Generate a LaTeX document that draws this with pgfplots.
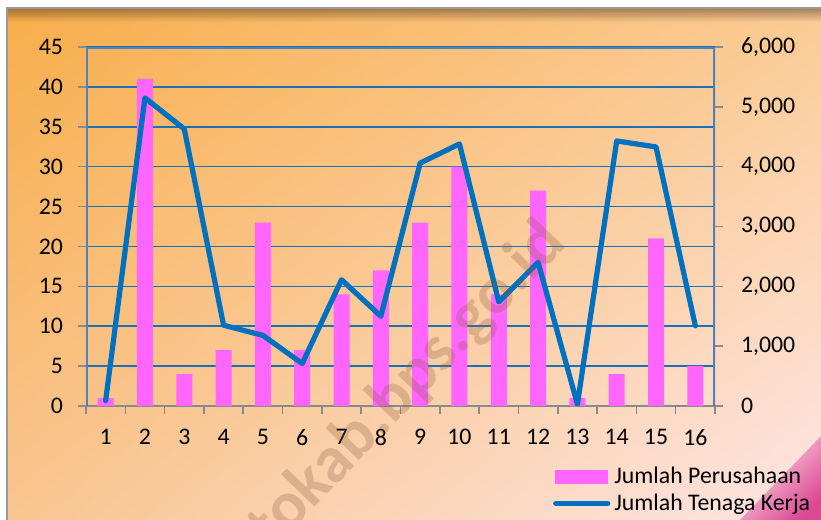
\documentclass[border=0pt]{standalone}
\usepackage{pgfplots}
\pgfplotsset{compat=1.18}
\usepackage{fontspec}
\setmainfont{Carlito}
\usetikzlibrary{fadings,shadings}

\definecolor{barpink}{HTML}{FF66FF}
\definecolor{lineblue}{HTML}{0070C0}
\definecolor{gridblue}{HTML}{1F6FB5}
\definecolor{frameblue}{HTML}{4F81BD}
\definecolor{tickgray}{HTML}{8A8A8A}
\definecolor{bgTL}{HTML}{F8AE4A}
\definecolor{bgTR}{HTML}{FBCB94}
\definecolor{bgBL}{HTML}{F9C590}
\definecolor{bgBR}{HTML}{FDE6E6}
\definecolor{corner}{HTML}{DC4A96}
\definecolor{wmbrown}{HTML}{8C5A40}

\newcommand{\lblfont}{\fontsize{11.9}{13.5}\selectfont}

\begin{document}
\begin{tikzpicture}
\useasboundingbox (0pt,0pt) rectangle (410.5pt,260pt);
\fill[white] (0pt,0pt) rectangle (410.5pt,260pt);
% background panel
\shade[upper left=bgTL, upper right=bgTR, lower left=bgBL, lower right=bgBR]
  (3.5pt,0pt) rectangle (410.5pt,256pt);
\shade[shading=axis, left color=bgBR, right color=corner, shading angle=45]
  (370pt,0pt) -- (410.5pt,42pt) -- (410.5pt,0pt) -- cycle;
\fill[black!70!brown, path fading=south, opacity=0.45] (3.5pt,249pt) rectangle (410.5pt,256pt);
\draw[gray!80, line width=1pt] (3.5pt,-1pt) -- (3.5pt,256pt) -- (411pt,256pt);

% bars, left axis
\begin{axis}[
  at={(43pt,57pt)}, anchor=south west, scale only axis,
  width=314.5pt, height=179.5pt,
  xmin=0.5, xmax=16.5, ymin=0, ymax=45,
  axis x line*=bottom, axis y line*=left,
  x axis line style={tickgray, line width=1pt, -},
  y axis line style={draw=none},
  xtick={0.5,1.5,...,16.5}, xticklabels={},
  extra x ticks={1,2,...,16},
  extra x tick style={tick style={draw=none}, xticklabel style={yshift=-4pt}},
  ytick={0,5,...,45},
  yticklabel style={xshift=-4pt},
  tick align=outside, major tick length=4pt,
  tick style={tickgray, line width=0.8pt},
  ymajorgrids, grid style={gridblue, line width=0.8pt},
  tick label style={font=\lblfont, text=black},
  /pgf/number format/assume math mode=true,
]
\addplot[ybar, bar width=8pt, fill=barpink, draw=none] coordinates {
  (1,1) (2,41) (3,4) (4,7) (5,23) (6,7) (7,14) (8,17)
  (9,23) (10,30) (11,14) (12,27) (13,1) (14,4) (15,21) (16,5)
};
\end{axis}

% line, right axis
\begin{axis}[
  at={(43pt,57pt)}, anchor=south west, scale only axis,
  width=314.5pt, height=179.5pt,
  xmin=0.5, xmax=16.5, ymin=0, ymax=6000,
  axis x line=none, axis y line*=right,
  y axis line style={draw=none},
  ytick={0,1000,...,6000},
  yticklabel style={xshift=5.5pt},
  tick align=outside, major tick length=4pt,
  tick style={tickgray, line width=0.8pt},
  tick label style={font=\lblfont, text=black},
  /pgf/number format/.cd, 1000 sep={,}, assume math mode=true,
  /pgfplots/.cd,
  legend style={at={(0.742,-0.158)}, anchor=north west, draw=none, fill=none,
    font=\lblfont, inner sep=0pt, row sep=-0.5pt, cells={anchor=west}},
]
\addlegendimage{legend image code/.code={\fill[barpink] (0pt,-3.25pt) rectangle (26pt,3.25pt);}}
\addlegendentry{Jumlah Perusahaan}
\addplot[lineblue, line width=2.6pt, line join=round, line cap=round,
  legend image code/.code={\draw[lineblue, line width=2.6pt, line cap=round] (0pt,0pt) -- (26pt,0pt);}]
  coordinates {
  (1,90) (2,5150) (3,4630) (4,1350) (5,1180) (6,710) (7,2110) (8,1500)
  (9,4060) (10,4380) (11,1740) (12,2400) (13,30) (14,4430) (15,4330) (16,1340)
};
\addlegendentry{Jumlah Tenaga Kerja}
\draw[frameblue, line width=1.6pt, line join=miter]
  (rel axis cs:0,0) -- (rel axis cs:0,1) -- (rel axis cs:1,1) -- (rel axis cs:1,0);
\end{axis}

% watermark
\begin{scope}
\clip (3.5pt,0pt) rectangle (410.5pt,256pt);
\node[rotate=46, anchor=east, text=wmbrown, opacity=0.27,
  font=\bfseries\fontsize{33}{33}\selectfont] at (280pt,146pt) {mojokertokab.bps.go.id};
\end{scope}
\end{tikzpicture}
\end{document}
